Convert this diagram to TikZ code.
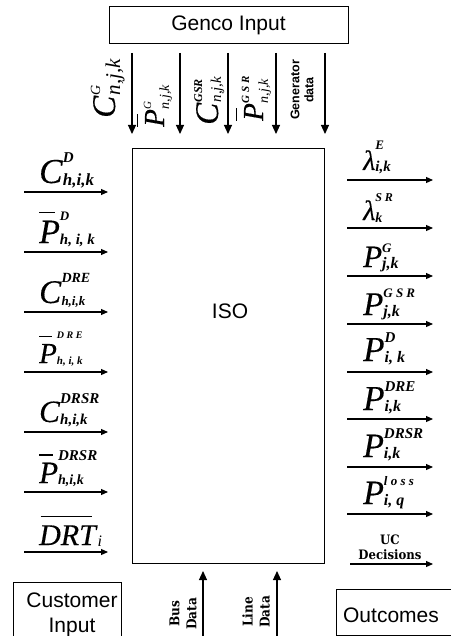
\documentclass[tikz,border=0pt]{standalone}
\usepackage{fontspec}
\setmainfont{Liberation Sans}
\newfontfamily\serif{Liberation Serif}
\newfontfamily\slab{DejaVu Serif Condensed}
\usetikzlibrary{arrows.meta}
% #1 base size, #2 base, #3 sup size, #4 sup, #5 sub size, #6 sub, #7 raise, #8 lower
\newcommand\lbl[8]{%
  \setbox0\hbox{\fontsize{#3}{#3}\selectfont\serif\itshape #4}%
  \setbox2\hbox{\fontsize{#5}{#5}\selectfont\serif\itshape #6}%
  \setbox4\hbox{\fontsize{#1}{#1}\selectfont\serif\itshape\addfontfeature{FakeBold=0.3}#2\/}%
  \dimen0=\ifdim\wd0>\wd2 \wd0\else\wd2\fi
  \box4\rlap{\raise #7pt\box0}\rlap{\lower #8pt\box2}\kern\dimen0\relax}
\newcommand\barP{\rlap{\raise .88em\hbox{\vrule width .45em height .045em}}P}
\begin{document}
\begin{tikzpicture}[x=1pt,y=-1pt,
  box/.style={draw, line width=0.8pt, inner sep=0},
  harr/.style={line width=1.1pt, -{Triangle[length=7pt,width=6pt]}},
  varr/.style={line width=1.1pt, -{Triangle[length=9pt,width=8pt]}},
  lab/.style={inner sep=0, anchor=base west},
  rlab/.style={inner sep=0, anchor=base west, rotate=90},
  boxtxt/.style={font=\fontsize{21}{24}\selectfont, inner sep=0, anchor=base},
  slabtxt/.style={font=\slab\bfseries\fontsize{13}{15}\selectfont, align=center, inner sep=0},
  slabrot/.style={font=\slab\bfseries\fontsize{13.5}{17}\selectfont, align=center, inner sep=0, rotate=90}]
\useasboundingbox (0,0) rectangle (450,636);
% boxes
\node[box, minimum width=239pt, minimum height=37pt] (genco) at (228.5,24.5) {};
\node[boxtxt] (gencotxt) at (228.5,31) {Genco Input};
\node[box, minimum width=192pt, minimum height=415pt] (iso) at (228,355.5) {};
\node[boxtxt] (isotxt) at (230,318) {ISO};
\node[box, minimum width=108pt, minimum height=54pt] (cust) at (67,609) {};
\node[boxtxt] (custtxt1) at (72,607) {Customer};
\node[boxtxt] (custtxt2) at (72,632) {Input};
\node[box, minimum width=116pt, minimum height=46pt] (outc) at (394,612) {};
\node[boxtxt] (outctxt) at (391,622) {Outcomes};
% top arrows
\foreach \x [count=\i] in {132,180,228,276,325}{
  \coordinate (ts\i) at (\x,53); \coordinate (te\i) at (\x,134);
  \draw[varr] (ts\i) -- (te\i);}
% left arrows
\foreach \y [count=\i] in {192,252,312,372,432,492,552}{
  \coordinate (ls\i) at (24,\y); \coordinate (le\i) at (108,\y);
  \draw[harr] (ls\i) -- (le\i);}
% right arrows
\foreach \y [count=\i] in {180,228,276,324,372,419,467,514}{
  \coordinate (rs\i) at (347,\y); \coordinate (re\i) at (433,\y);
  \draw[harr] (rs\i) -- (re\i);}
\coordinate (rs9) at (350,564); \coordinate (re9) at (433,564);
\draw[harr] (rs9) -- (re9);
% bottom arrows
\coordinate (bs1) at (203,636); \coordinate (be1) at (203,571);
\coordinate (bs2) at (277,636); \coordinate (be2) at (277,571);
\draw[varr] (bs1) -- (be1);
\draw[varr] (bs2) -- (be2);
% top labels
\node[rlab] (t1) at (115,118) {\lbl{33}{C}{14}{G}{21}{n,j,k}{15}{5}};
\node[rlab] (t2) at (164,127) {\lbl{29}{\barP}{11}{G}{14}{n,j,k}{13}{5}};
\node[rlab] (t3) at (218,125) {\lbl{33}{C}{12}{\bfseries GSR}{15}{n,j,k}{16}{3}};
\node[rlab] (t4) at (263,121) {\lbl{29}{\barP}{11}{\bfseries G S R}{14}{n,j,k}{14}{5}};
\node[rotate=90, font=\bfseries\fontsize{12.5}{14}\selectfont, align=center, inner sep=0] (gd) at (302,90) {Generator\\data};
% left labels
\node[lab] (l1) at (39,183) {\lbl{35}{C}{15}{\bfseries D}{17}{\bfseries h,i,k}{20}{2}};
\node[lab] (l2) at (39,243) {\lbl{34}{\barP}{13}{\bfseries D}{15}{\bfseries h, i, k}{23}{1}};
\node[lab] (l3) at (39,303) {\lbl{33}{C}{14}{\bfseries DRE}{13}{\bfseries h,i,k}{21}{2}};
\node[lab] (l4) at (39,363) {\lbl{29}{\barP}{10}{\bfseries D R E}{11}{\bfseries h, i, k}{25}{1}};
\node[lab] (l5) at (39,422) {\lbl{31}{C}{15}{\bfseries DRSR}{15}{\bfseries h,i,k}{19}{2}};
\node[lab] (l6) at (39,483) {\lbl{31}{\barP}{15}{\bfseries DRSR}{14}{\bfseries h,i,k}{23}{1}};
\node[lab] (l7) at (39,545) {{\fontsize{30}{30}\selectfont\serif\itshape\addfontfeature{FakeBold=0.3}\rlap{\raise .93em\hbox{\kern .05em\vrule width 1.7em height .045em}}DRT\/}\lower 1pt\hbox{\fontsize{16}{16}\selectfont\serif\itshape i}};
% right labels
\node[lab] (r1) at (363,170) {\lbl{28}{λ}{13}{\bfseries E}{15}{\bfseries i,k}{20}{2}};
\node[lab] (r2) at (363,220) {\lbl{28}{λ}{12}{\bfseries S R}{14}{\bfseries k}{18}{2}};
\node[lab] (r3) at (363,267) {\lbl{31}{P}{13}{\bfseries G}{16}{\bfseries j,k}{15}{1}};
\node[lab] (r4) at (363,315) {\lbl{33}{P}{13}{\bfseries G S R}{16}{\bfseries j,k}{18}{1}};
\node[lab] (r5) at (363,361) {\lbl{35}{P}{15}{\bfseries D}{16}{\bfseries i, k}{19}{1}};
\node[lab] (r6) at (363,410) {\lbl{35}{P}{15}{\bfseries DRE}{16}{\bfseries i,k}{19}{1}};
\node[lab] (r7) at (363,457) {\lbl{34}{P}{15}{\bfseries DRSR}{16}{\bfseries i,k}{19}{1}};
\node[lab] (r8) at (363,504) {\lbl{34}{P}{13}{\bfseries l o s s}{16}{\bfseries i, q}{19}{1}};
\node[slabtxt] (uc) at (390,547) {UC\\Decisions};
% bottom labels
\node[slabrot] (bus) at (183,614) {Bus\\Data};
\node[slabrot] (line) at (256,612) {Line\\Data};
\end{tikzpicture}
\end{document}
